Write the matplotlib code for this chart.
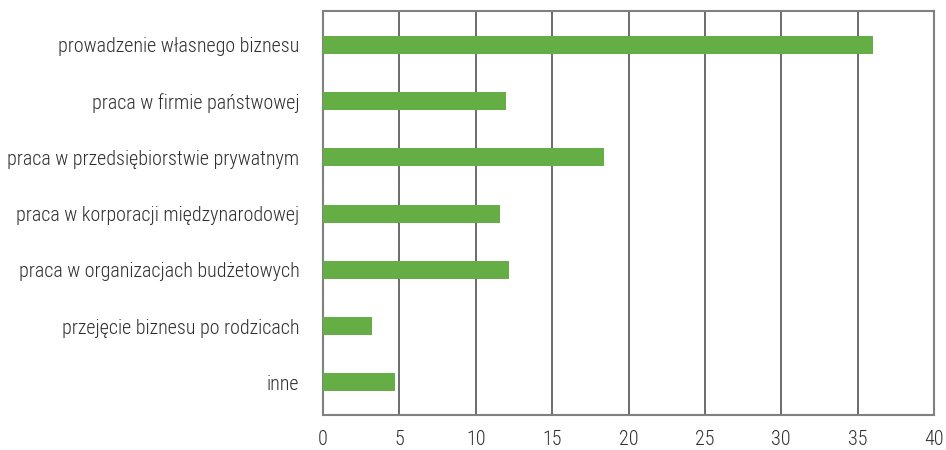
import matplotlib.pyplot as plt
from matplotlib import font_manager

categories = [
    "prowadzenie własnego biznesu",
    "praca w firmie państwowej",
    "praca w przedsiębiorstwie prywatnym",
    "praca w korporacji międzynarodowej",
    "praca w organizacjach budżetowych",
    "przejęcie biznesu po rodzicach",
    "inne",
]
values = [36.0, 12.0, 18.4, 11.6, 12.2, 3.2, 4.7]
xticks = [0, 5, 10, 15, 20, 25, 30, 35, 40]

names = {f.name for f in font_manager.fontManager.ttflist}
narrow = [n for n in ["Roboto Condensed", "Liberation Sans Narrow"] if n in names]
fam = narrow[0] if narrow else "Roboto"
plt.rcParams['font.family'] = [fam, 'DejaVu Sans']
plt.rcParams['font.weight'] = 'light'

fig = plt.figure(figsize=(9.46, 4.5), dpi=100)
ax = fig.add_axes([323 / 946, 35 / 450, 611 / 946, 404 / 450])

y = list(range(len(categories)))
ax.barh(y, values, height=0.32, color="#65ad45", zorder=3)
ax.set_ylim(len(categories) - 0.42, -0.6)
ax.set_xlim(0, 40)
ax.set_xticks(xticks)
ax.set_yticks(y)
ax.set_yticklabels(categories, fontsize=14.4 if narrow else 12.6, color="#2e2e2e")
ax.tick_params(axis="x", labelsize=14.5, colors="#2e2e2e", length=0, pad=11)
ax.tick_params(axis="y", length=0, pad=17)
ax.grid(axis="x", color="#444444", linewidth=1.1, zorder=1)
for s in ax.spines.values():
    s.set_color("#808080")
    s.set_linewidth(1.5)

fig.savefig("out.png", dpi=100)
